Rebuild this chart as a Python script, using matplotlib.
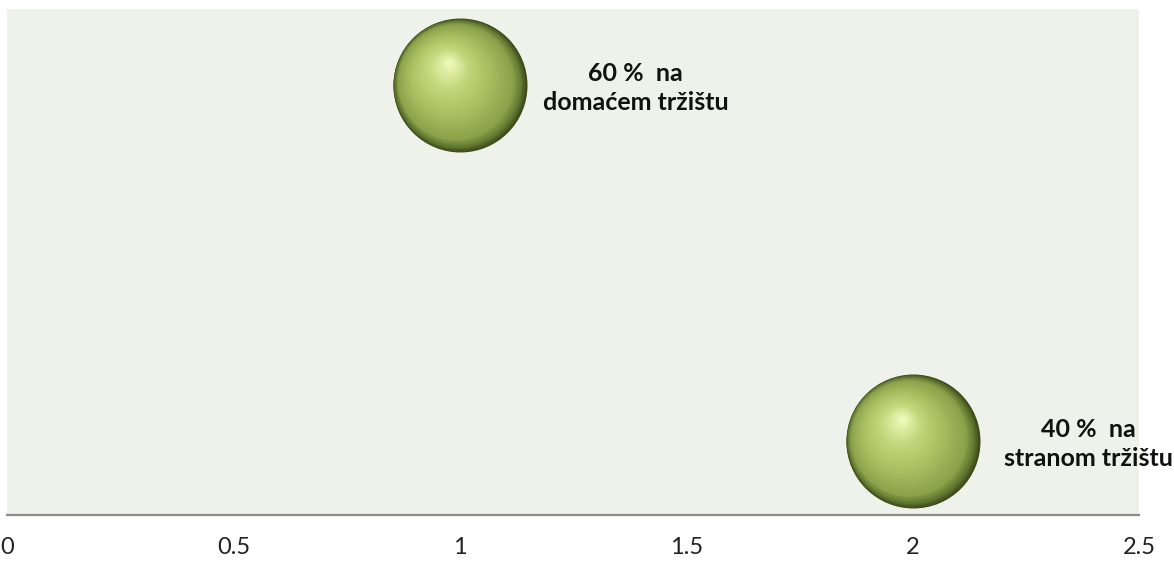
import numpy as np
import matplotlib
matplotlib.use("Agg")
from matplotlib import pyplot as plt
from matplotlib import transforms
from matplotlib.colors import LinearSegmentedColormap

# data
x_vals = [1, 2]
y_vals = [60, 40]
labels = ["60 %  na\ndomaćem tržištu", "40 %  na\nstranom tržištu"]
x_ticks = [0, 0.5, 1, 1.5, 2, 2.5]
x_tick_labels = ["0", "0.5", "1", "1.5", "2", "2.5"]

BG = "#eff2ea"
fig = plt.figure(figsize=(11.74, 5.63), dpi=100)
ax = fig.add_axes([7 / 1174, 1 - 515 / 563, (1139 - 7) / 1174, (515 - 9) / 563])
ax.set_facecolor(BG)
ax.set_xlim(0, 2.5)
ax.set_ylim(35.84, 64.27)

# sphere shading with nested offset circles
cmap = LinearSegmentedColormap.from_list("sphere", [
    (0.0, "#3e4c1a"),
    (0.05, "#5f7630"),
    (0.14, "#8aa24a"),
    (0.40, "#a6bd60"),
    (0.72, "#c2d87c"),
    (1.0, "#eef9b8"),
])
diam_pt = 134 * 72 / 100
R = diam_pt / 2
N = 70
for k in range(N):
    t = k / (N - 1)
    r = R * (1 - 0.97 * t)
    dx = -0.15 * R * t - 0.10 * R * np.sin(np.pi * t)
    dy = 0.34 * R * t
    tr = transforms.offset_copy(ax.transData, fig=fig, x=dx, y=dy, units="points")
    ax.scatter(x_vals, y_vals, s=(2 * r) ** 2, color=cmap(t), transform=tr,
               linewidths=0, zorder=3 + k * 0.001)

for xv, yv, lab in zip(x_vals, y_vals, labels):
    ax.annotate(lab, xy=(xv, yv), xytext=(176, -3), textcoords="offset pixels",
                ha="center", va="center", fontsize=18, fontweight="bold",
                family="Lato", color="#111111", linespacing=1.35, zorder=10,
                annotation_clip=False)

for side in ["top", "left", "right"]:
    ax.spines[side].set_visible(False)
ax.spines["bottom"].set_color("#8c8c8c")
ax.spines["bottom"].set_linewidth(1.6)
ax.set_yticks([])
ax.set_xticks(x_ticks)
ax.set_xticklabels(x_tick_labels, family="Lato", fontsize=17, color="#222222")
ax.tick_params(axis="x", length=0, pad=16)

fig.savefig("out.png", dpi=100, facecolor="white")
